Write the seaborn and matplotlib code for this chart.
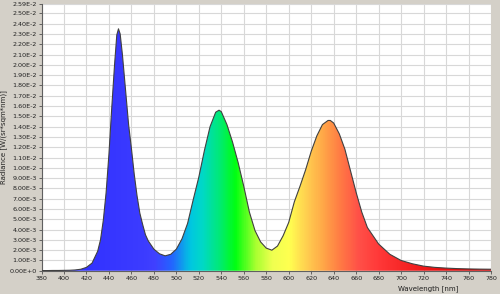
import numpy as np
import pandas as pd
import matplotlib
matplotlib.use("Agg")
import matplotlib.pyplot as plt
from matplotlib.colors import LinearSegmentedColormap
import seaborn as sns

# Wavelength [nm] and radiance (x1e-3 W/(sr*sqm*nm))
wavelength = [380, 385, 390, 395, 400, 405, 410, 415, 420, 425,
              430, 432.5, 435, 437.5, 440, 442.5, 445, 447, 448.5, 450,
              452, 455, 457.5, 460, 462.5, 465, 467.5, 470, 472.5, 475,
              477.5, 480, 485, 490, 495, 500, 505, 510, 515, 520,
              525, 530, 535, 538, 540, 545, 550, 555, 560, 565,
              570, 575, 580, 585, 590, 595, 600, 605, 610, 615,
              620, 625, 630, 635, 637, 640, 645, 650, 655, 660,
              665, 670, 675, 680, 685, 690, 695, 700, 710, 720,
              730, 740, 750, 760, 770, 780]
radiance_e3 = [0.02, 0.02, 0.03, 0.03, 0.04, 0.05, 0.08, 0.15, 0.33, 0.75,
               1.9, 3.0, 4.9, 7.6, 11.3, 15.8, 20.0, 22.9, 23.5, 23.0,
               21.0, 17.3, 14.2, 11.9, 9.4, 7.3, 5.6, 4.5, 3.5, 2.9,
               2.5, 2.1, 1.65, 1.45, 1.6, 2.1, 3.1, 4.6, 6.9, 9.1,
               11.7, 14.0, 15.4, 15.6, 15.45, 14.2, 12.5, 10.5, 8.2, 5.7,
               3.9, 2.8, 2.2, 2.0, 2.4, 3.4, 4.7, 6.7, 8.2, 9.8,
               11.6, 13.1, 14.2, 14.6, 14.6, 14.35, 13.3, 11.8, 9.7, 7.6,
               5.7, 4.2, 3.4, 2.6, 2.1, 1.6, 1.3, 1.0, 0.68, 0.45,
               0.33, 0.26, 0.21, 0.18, 0.16, 0.15]

y_ticks = [i * 1e-3 for i in range(26)] + [2.59e-2]
x_ticks = list(range(380, 781, 20))

df = pd.DataFrame({"Wavelength": wavelength,
                   "Radiance": np.array(radiance_e3) * 1e-3})

sns.set_theme(style="white")
plt.rcParams['font.family'] = ['DejaVu Sans']

fig = plt.figure(figsize=(5.0, 2.94), dpi=100, facecolor="#D4D0C8")
ax = fig.add_axes([0.083, 0.079, 0.899, 0.907])
ax.set_facecolor("white")

# spectral gradient fill
stops = [(380, "#2a2aff"), (470, "#3c3cff"), (480, "#4040ff"), (495, "#2464ff"),
         (512, "#00c8e0"), (522, "#00d8c8"), (536, "#00e880"), (552, "#00ff10"),
         (570, "#a8ff30"), (585, "#f0ff50"), (600, "#ffff50"), (615, "#ffd050"),
         (630, "#ffa848"), (645, "#ff7c44"), (662, "#ff5048"), (680, "#ff3838"),
         (720, "#f01818"), (780, "#d00000")]
pos = [(w - 380) / 400 for w, _ in stops]
cmap = LinearSegmentedColormap.from_list("spec", list(zip(pos, [c for _, c in stops])))

poly = ax.fill_between(df["Wavelength"], 0, df["Radiance"], color="none", lw=0)
grad = np.linspace(0, 1, 800).reshape(1, -1)
im = ax.imshow(grad, cmap=cmap, aspect="auto", extent=[380, 780, 0, 2.59e-2],
               origin="lower", zorder=2, interpolation="bilinear")
path = poly.get_paths()[0]
im.set_clip_path(path, transform=ax.transData)

sns.lineplot(data=df, x="Wavelength", y="Radiance", ax=ax, color="#404040",
             lw=0.8, zorder=3)

ax.set_xlim(380, 780)
ax.set_ylim(0, 2.59e-2)
ax.set_xticks(x_ticks)
ax.set_yticks(y_ticks)
ax.set_xticklabels([str(t) for t in x_ticks])
ylabels = []
for t in y_ticks:
    if t == 0:
        ylabels.append("0.00E+0")
    else:
        s = f"{t:.2E}"
        m, e = s.split("E")
        ylabels.append(f"{m}E{int(e)}")
ax.set_yticklabels(ylabels)
ax.grid(True, color="#d8d8d8", lw=0.8, zorder=0)
ax.set_axisbelow(True)
ax.tick_params(axis="both", labelsize=4.6, length=2.5, width=0.6, pad=1,
               colors="#505050", labelcolor="#202020", direction="out",
               bottom=True, left=True)
for s in ["top", "right"]:
    ax.spines[s].set_visible(False)
for s in ["left", "bottom"]:
    ax.spines[s].set_color("#606060")
    ax.spines[s].set_linewidth(0.8)

ax.set_xlabel("Wavelength [nm]", fontsize=5, color="#202020", labelpad=1)
ax.xaxis.set_label_coords(0.86, -0.055)
ax.set_ylabel("Radiance [W/(sr*sqm*nm)]", fontsize=5, color="#202020", labelpad=2)

fig.savefig("out.png", dpi=100, facecolor=fig.get_facecolor())
